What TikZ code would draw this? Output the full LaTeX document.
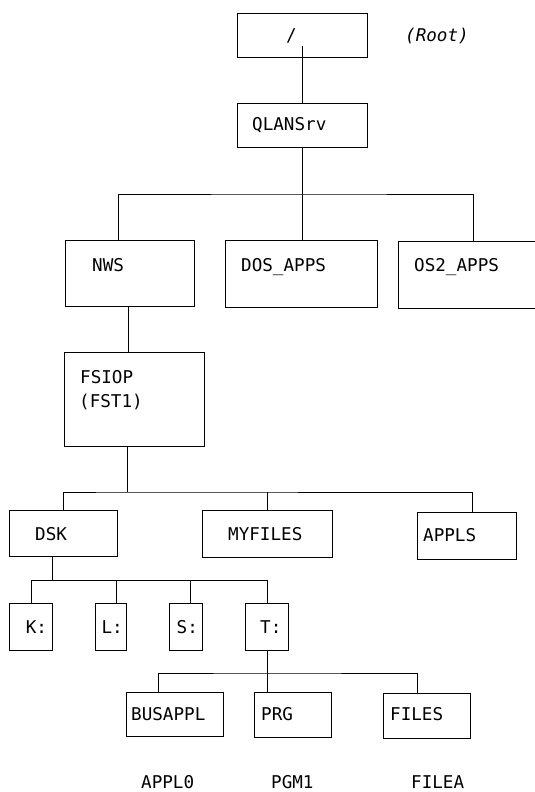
\documentclass[tikz,border=0pt]{standalone}
\usepackage{fontspec}
\newfontfamily\dmono{DejaVu Sans Mono}
\begin{document}
\begin{tikzpicture}[x=1pt,y=-1pt,
  box/.style={draw, line width=0.8pt, inner sep=0pt, anchor=north west},
  lbl/.style={inner sep=0pt, anchor=base west, font=\dmono\fontsize{17.6}{20}\selectfont},
  conn/.style={line width=0.8pt}]
\useasboundingbox (0,0) rectangle (535,792);
% boxes
\node[box, minimum width=130pt, minimum height=44pt] (root) at (237,13) {};
\node[box, minimum width=130pt, minimum height=44pt] (qlan) at (237,103) {};
\node[box, minimum width=129pt, minimum height=66pt] (nws) at (65,240) {};
\node[box, minimum width=152pt, minimum height=67pt] (dos) at (225,240) {};
\node[box, minimum width=142pt, minimum height=67pt] (os2) at (398,241) {};
\node[box, minimum width=140pt, minimum height=94pt] (fsiop) at (64,352) {};
\node[box, minimum width=108.5pt, minimum height=46pt] (dsk) at (8.5,510) {};
\node[box, minimum width=130pt, minimum height=47pt] (myf) at (202,510) {};
\node[box, minimum width=99pt, minimum height=47pt] (appls) at (417,512) {};
\node[box, minimum width=43pt, minimum height=46.5pt] (k) at (9,603) {};
\node[box, minimum width=31.5pt, minimum height=46.5pt] (l) at (94.5,603) {};
\node[box, minimum width=33pt, minimum height=46.5pt] (s) at (169,603) {};
\node[box, minimum width=43pt, minimum height=46.5pt] (t) at (245,603) {};
\node[box, minimum width=97pt, minimum height=44pt] (busappl) at (126,692) {};
\node[box, minimum width=77pt, minimum height=45pt] (prg) at (254,692) {};
\node[box, minimum width=87pt, minimum height=45pt] (files) at (383,693) {};
% texts
\node[lbl] (t-root) at (286,42) {/};
\node[lbl, font=\dmono\itshape\fontsize{17.6}{20}\selectfont] (t-rootlbl) at (405,42) {(Root)};
\node[lbl] (t-qlan) at (252,130) {QLANSrv};
\node[lbl] (t-nws) at (92,271) {NWS};
\node[lbl] (t-dos) at (241,271) {DOS\_APPS};
\node[lbl] (t-os2) at (414,271.5) {OS2\_APPS};
\node[lbl] (t-fsiop) at (80,383) {FSIOP};
\node[lbl] (t-fst) at (79,407) {(FST1)};
\node[lbl] (t-dsk) at (35,540) {DSK};
\node[lbl] (t-myf) at (228,540) {MYFILES};
\node[lbl] (t-appls) at (423,541) {APPLS};
\node[lbl] (t-k) at (25.6,633) {K:};
\node[lbl] (t-l) at (101.4,633) {L:};
\node[lbl] (t-s) at (176.5,633) {S:};
\node[lbl] (t-t) at (260,633) {T:};
\node[lbl] (t-busappl) at (131,720) {BUSAPPL};
\node[lbl] (t-prg) at (261,720) {PRG};
\node[lbl] (t-files) at (390,720) {FILES};
\node[lbl] (t-appl0) at (141,788) {APPL0};
\node[lbl] (t-pgm1) at (271,788) {PGM1};
\node[lbl] (t-filea) at (411,788) {FILEA};
% connectors
\coordinate (rootstem) at (302,46);
\draw[conn] (rootstem) -- (rootstem |- qlan.north);
\coordinate (bus1) at (302,194);
\draw[conn] (qlan.south) -- (qlan.south |- dos.north);
\draw[conn] ([xshift=53pt]nws.north west) |- (bus1) -| ([xshift=75pt]os2.north west);
\coordinate (n1) at ([xshift=63pt]nws.south west);
\draw[conn] (n1) -- (n1 |- fsiop.north);
\coordinate (f1) at ([xshift=63pt]fsiop.south west);
\coordinate (bus2) at (127,492);
\draw[conn] (f1) -- (f1 |- bus2);
\draw[conn] ([xshift=54.5pt]dsk.north west) |- (bus2) -| ([xshift=55pt]appls.north west);
\coordinate (m1) at ([xshift=65pt]myf.north west);
\draw[conn] (m1) -- (m1 |- bus2);
\coordinate (d1) at ([xshift=43.5pt]dsk.south west);
\coordinate (bus3) at (52,580.5);
\draw[conn] (d1) -- (d1 |- bus3);
\draw[conn] ([xshift=22pt]k.north west) |- (bus3) -| ([xshift=22pt]t.north west);
\coordinate (l1) at ([xshift=21.5pt]l.north west);
\draw[conn] (l1) -- (l1 |- bus3);
\coordinate (s1) at ([xshift=21pt]s.north west);
\draw[conn] (s1) -- (s1 |- bus3);
\coordinate (t1) at ([xshift=22pt]t.south west);
\coordinate (bus4) at (267,673);
\draw[conn] (t1) -- (t1 |- prg.north);
\draw[conn] ([xshift=32pt]busappl.north west) |- (bus4) -| ([xshift=34pt]files.north west);
\end{tikzpicture}
\end{document}
